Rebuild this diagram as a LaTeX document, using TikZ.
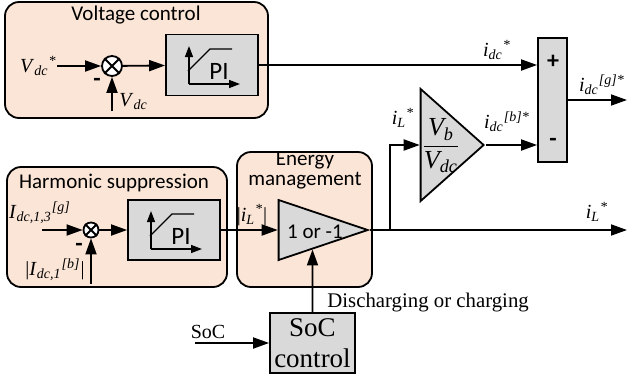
\documentclass[tikz,border=0pt]{standalone}
\usepackage{amsmath}
\usepackage{fontspec}
\setmainfont{Liberation Serif}
\setsansfont{Carlito}
\usetikzlibrary{arrows.meta,positioning,shapes.geometric,calc}
\definecolor{peach}{RGB}{251,229,214}
\definecolor{blkgray}{RGB}{217,217,217}
\tikzset{
  grp/.style={draw, rounded corners=7pt, fill=peach, line width=0.9pt},
  pibox/.style={draw, fill=blkgray, minimum width=46pt, minimum height=30.5pt, line width=0.9pt},
  sumc/.style={draw, circle, fill=white, minimum size=10pt, inner sep=0pt, line width=0.9pt},
  gain/.style={draw, isosceles triangle, isosceles triangle stretches, fill=blkgray,
               inner sep=0pt, line width=0.9pt},
  flow/.style={-{Triangle[length=8pt,width=5.5pt]}, line width=0.9pt},
  axis/.style={-{Triangle[length=5.5pt,width=4pt]}, line width=0.7pt},
  ttl/.style={font=\sffamily\fontsize{10.5}{10}\selectfont, align=center, inner sep=0pt},
  sig/.style={font=\fontsize{10}{12}\selectfont, inner sep=0pt},
  sgn/.style={font=\sffamily\bfseries\fontsize{12}{14}\selectfont, inner sep=0pt},
}
\newcommand{\sgl}[3]{\textit{#1}$_{\textit{#2}}{}^{\textit{#3}}$}

\begin{document}
\begin{tikzpicture}[x=0.5pt, y=-0.5pt]
  \useasboundingbox (0,0) rectangle (628,381);
  % Voltage control group
  \node[grp, minimum width=131.5pt, minimum height=58pt] (vcg) at (136.5,60) {};
  \node[ttl] (vct) at (136,15) {Voltage control};
  \node[sumc] (s1) at (112,66) {};
  \node[sig, anchor=east] (vref) at (57,66) {\sgl{V}{dc}{*}};
  \coordinate (vfb) at (112,111);
  \node[sig, anchor=west] (vdc) at (119,102) {\sgl{V}{dc}{}};
  \node[sgn] (m1) at (97,82) {-};
  \node[pibox] (pi1) at (212,65) {};
  % Harmonic suppression group
  \node[grp, minimum width=110pt, minimum height=60pt] (hsg) at (117,227) {};
  \node[ttl] (hst) at (114,183) {Harmonic suppression};
  \node[sumc, minimum size=7.5pt] (s2) at (91,230) {};
  \coordinate (hin) at (42,230);
  \node[sig] (href) at (40,213) {\sgl{I}{dc,1,3}{[g]}};
  \coordinate (hfb) at (91,284);
  \node[sig] (hmag) at (55,270) {|\sgl{I}{dc,1}{[b]}|};
  \node[sgn] (m2) at (79,247) {-};
  \node[pibox, minimum height=30pt] (pi2) at (174,230) {};
  % Energy management group
  \node[grp, minimum width=67.5pt, minimum height=67.5pt] (emg) at (304.5,219.5) {};
  \node[ttl] (emt) at (305,171) {Energy\\management};
  \node[gain, minimum width=30pt, minimum height=44.5pt, anchor=apex] (etri) at (370,230) {};
  \node[font=\sffamily\fontsize{10.5}{12}\selectfont] (etxt) at (315,232) {1 or -1};
  \node[sig] (ilm) at (252,215) {|\sgl{i}{L}{*}|};
  % Ratio gain and summing box
  \node[gain, minimum width=56pt, minimum height=31.5pt, anchor=apex] (gtri) at (486,145) {};
  \node[font=\fontsize{13}{15}\selectfont, inner sep=0pt] (gtxt) at (441,146)
    {$\dfrac{\textit{V}_{\textit{b}}}{\textit{V}_{\textit{dc}}}$};
  \node[pibox, minimum width=14.5pt, minimum height=62pt] (sb) at (552.5,100) {};
  \node[sgn] (plus) at (553,62) {+};
  \node[sgn] (minus) at (553,142) {-};
  % SoC control
  \node[pibox, minimum width=42.5pt, minimum height=30pt, align=center, inner sep=0pt,
        font=\fontsize{13.5}{15.5}\selectfont] (soc) at (312.5,343) {SoC\\control};
  \coordinate (sin) at (195,343);
  \node[sig] (socl) at (208,332) {SoC};
  \node[sig, anchor=west, font=\fontsize{10.4}{12}\selectfont] (dchg) at (327,303) {Discharging or charging};
  % Outputs and labels
  \coordinate (br) at (390,230);
  \coordinate (lout) at (627,230);
  \coordinate (gout) at (627,100);
  \node[sig] (lidc) at (497,50) {\sgl{i}{dc}{*}};
  \node[sig] (lidcb) at (507,122) {\sgl{i}{dc}{[b]*}};
  \node[sig] (lidcg) at (602,85) {\sgl{i}{dc}{[g]*}};
  \node[sig] (lil1) at (403,118) {\sgl{i}{L}{*}};
  \node[sig] (lil2) at (597,212) {\sgl{i}{L}{*}};
  % Connectors
  \draw[flow] (vref) -- (s1);
  \draw[flow] (vfb) -- (s1);
  \draw[flow] (s1) -- (pi1);
  \draw[flow] (pi1) -- (pi1 -| sb.west);
  \draw[flow] (hin) -- (s2);
  \draw[flow] (hfb) -- (s2);
  \draw[flow] (s2) -- (pi2);
  \draw[flow] (pi2) -- (etri);
  \draw[flow] (etri.apex) -- (lout);
  \draw[flow] (br) |- (gtri);
  \draw[flow] (gtri.apex) -- (gtri.apex -| sb.west);
  \draw[flow] (sb) -- (gout);
  \draw[flow] (sin) -- (soc);
  \draw[flow] (soc) -- (intersection of soc.north--soc.south and etri.right corner--etri.apex);
  % Summing junctions and PI symbols
  \foreach \s in {s1,s2}
    \draw[line width=0.9pt] (\s.north west) -- (\s.south east) (\s.north east) -- (\s.south west);
  \foreach \p in {pi1,pi2} {
    \draw[axis] ($(\p)+(-23,19)$) -- ($(\p)+(-23,-19)$);
    \draw[axis] ($(\p)+(-23,19)$) -- ($(\p)+(28,19)$);
    \draw[line width=0.7pt] ($(\p)+(-24,6)$) -- ($(\p)+(-2,-16)$) -- ($(\p)+(20,-16)$);
    \node[font=\sffamily\fontsize{12.5}{14}\selectfont] (\p-t) at ($(\p)+(7,6)$) {PI};
  }
\end{tikzpicture}
\end{document}
